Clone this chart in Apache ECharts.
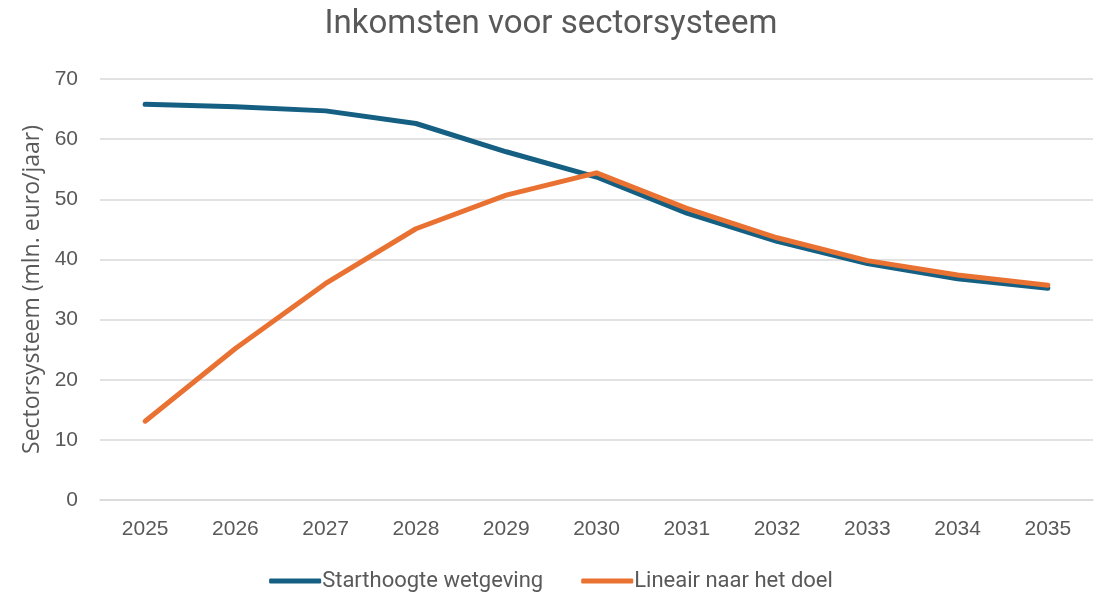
<!DOCTYPE html>
<html>
<head>
<meta charset="utf-8">
<script src="https://cdn.jsdelivr.net/npm/echarts@6/dist/echarts.min.js"></script>
<style>
  html, body { margin: 0; padding: 0; background: #fff; }
  #chart { width: 1102px; height: 596px; }
</style>
</head>
<body>
<div id="chart"></div>
<script>
var years = ["2025", "2026", "2027", "2028", "2029", "2030", "2031", "2032", "2033", "2034", "2035"];
var starthoogte = [65.8, 65.4, 64.7, 62.6, 57.9, 53.7, 47.7, 43.0, 39.3, 36.8, 35.2];
var lineair = [13.1, 25.2, 36.0, 45.1, 50.7, 54.4, 48.5, 43.6, 39.8, 37.4, 35.7];
var legendNames = ["Starthoogte wetgeving", "Lineair naar het doel"];

var chart = echarts.init(document.getElementById("chart"));
var textColor = "#595959";

var option = {
  animation: false,
  title: {
    text: "Inkomsten voor sectorsysteem",
    left: "center",
    top: 3,
    textStyle: {
      fontFamily: "Roboto",
      fontWeight: "normal",
      fontSize: 33,
      color: textColor
    }
  },
  grid: {
    left: 100,
    right: 9,
    top: 79,
    bottom: 96
  },
  legend: {
    bottom: -1,
    left: "center",
    itemWidth: 52,
    itemHeight: 5,
    itemGap: 38,
    icon: "roundRect",
    textStyle: {
      fontFamily: "Roboto",
      fontSize: 22,
      color: textColor,
      padding: [0, 0, 0, -4]
    },
    data: legendNames
  },
  color: ["#156082", "#E97132"],
  xAxis: {
    type: "category",
    data: years,
    boundaryGap: true,
    axisLine: { show: true, lineStyle: { color: "#D9D9D9", width: 1.5 } },
    axisTick: { show: false },
    axisLabel: {
      margin: 19,
      fontFamily: "Liberation Sans",
      fontSize: 21,
      color: textColor
    }
  },
  yAxis: {
    type: "value",
    min: 0,
    max: 70,
    interval: 10,
    name: "Sectorsysteem (mln. euro/jaar)",
    nameLocation: "middle",
    nameGap: 56,
    nameTextStyle: {
      fontFamily: "Open Sans",
      fontSize: 23,
      color: textColor
    },
    axisLine: { show: false },
    axisTick: { show: false },
    axisLabel: {
      margin: 22,
      fontFamily: "Liberation Sans",
      fontSize: 21,
      color: textColor
    },
    splitLine: { lineStyle: { color: "#D9D9D9", width: 1.5 } }
  },
  series: [
    {
      name: legendNames[0],
      type: "line",
      data: starthoogte,
      symbol: "none",
      lineStyle: { width: 5, cap: "round", join: "round" }
    },
    {
      name: legendNames[1],
      type: "line",
      data: lineair,
      symbol: "none",
      lineStyle: { width: 5, cap: "round", join: "round" }
    }
  ]
};

chart.setOption(option);
</script>
</body>
</html>
